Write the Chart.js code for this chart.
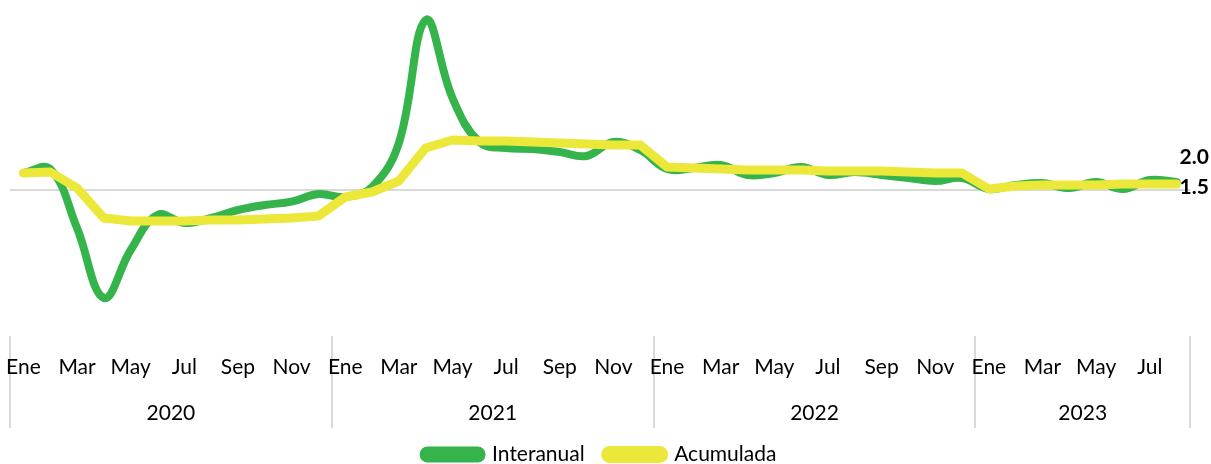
<!DOCTYPE html>
<html>
<head>
<meta charset="utf-8">
<script src="https://cdn.jsdelivr.net/npm/chart.js@4/dist/chart.umd.min.js"></script>
<style>
  html, body { margin: 0; padding: 0; background: #fff; }
  #wrap { width: 1211px; height: 464px; }
</style>
</head>
<body>
<div id="wrap"><canvas id="myGraph"></canvas></div>
<script>
// month names and years on the x axis
var monthNames = ['Ene', 'Feb', 'Mar', 'Abr', 'May', 'Jun', 'Jul', 'Ago', 'Sep', 'Oct', 'Nov', 'Dic'];
var years = ['2020', '2021', '2022', '2023'];
var monthsPerYear = [12, 12, 12, 8];

// variacion interanual (%)
var interanual = [
    4.25, 5.25, -9.5, -27, -15, -6.25, -8.25, -7, -5, -3.75, -2.9, -1,
    -1.75, 0.75, 11.75, 42.5, 23, 12, 10.5, 10.25, 9.5, 8.5, 12, 10,
    5.25, 5.5, 6.25, 3.75, 4.25, 5.75, 3.75, 4.5, 3.75, 3, 2.25, 3,
    0.25, 1.25, 1.75, 0.5, 2.0, 0.25, 2.5, 2.0
];

// variacion acumulada (%)
var acumulada = [
    4.25, 4.5, 0.5, -7, -7.75, -7.75, -7.75, -7.5, -7.5, -7.25, -7, -6.5,
    -1.75, -0.5, 2.25, 10.5, 12.5, 12.25, 12.25, 12, 11.75, 11.5, 11.25, 11.25,
    5.75, 5.5, 5.25, 5, 5, 5, 4.75, 4.75, 4.75, 4.5, 4.25, 4.25,
    0.25, 1, 1.25, 1.25, 1.25, 1.5, 1.5, 1.5
];

var labels = [];
var yearStart = [];
years.forEach(function (y, k) {
    yearStart.push(labels.length);
    for (var m = 0; m < monthsPerYear[k]; m++) labels.push(monthNames[m]);
});

var FONT = 'Lato';
var FSIZE = 21;

// vertical separators between the years (drawn under the labels)
var yearLines = {
    id: 'yearLines',
    beforeDraw: function (chart) {
        var x2 = chart.scales.x2;
        var ctx = chart.ctx;
        var bounds = yearStart.concat([labels.length]);
        ctx.save();
        ctx.strokeStyle = '#d9d9d9';
        ctx.lineWidth = 2;
        bounds.forEach(function (b) {
            var px = Math.round(x2.getPixelForValue(b - 0.5));
            ctx.beginPath();
            ctx.moveTo(px, chart.chartArea.bottom);
            ctx.lineTo(px, chart.chartArea.bottom + 92);
            ctx.stroke();
        });
        ctx.restore();
    }
};

// labels on the last point of each line
var endLabels = {
    id: 'endLabels',
    afterDatasetsDraw: function (chart) {
        var ctx = chart.ctx;
        ctx.save();
        ctx.font = 'bold ' + FSIZE + 'px ' + FONT;
        ctx.fillStyle = '#000';
        ctx.textAlign = 'left';
        ctx.textBaseline = 'middle';
        chart.data.datasets.forEach(function (ds, i) {
            var meta = chart.getDatasetMeta(i);
            var pt = meta.data[meta.data.length - 1];
            var v = ds.data[ds.data.length - 1];
            var dy = i === 0 ? -25 : 3;
            ctx.fillText(v.toFixed(1), pt.x + 3, pt.y + dy);
        });
        ctx.restore();
    }
};

function noSidePadding(scale) {
    scale.paddingLeft = 0;
    scale.paddingRight = 0;
}

var ctx = document.getElementById('myGraph');
var myGraph = new Chart(ctx, {
    type: 'line',
    data: {
        labels: labels,
        datasets: [{
            label: 'Interanual',
            data: interanual,
            borderColor: 'rgb(52, 180, 74)',
            backgroundColor: 'rgb(52, 180, 74)',
            borderWidth: 8,
            tension: 0.4,
            order: 1
        }, {
            label: 'Acumulada',
            data: acumulada,
            borderColor: 'rgb(236, 232, 58)',
            backgroundColor: 'rgb(236, 232, 58)',
            borderWidth: 9,
            tension: 0,
            order: 0
        }]
    },
    plugins: [yearLines, endLabels],
    options: {
        responsive: true,
        maintainAspectRatio: false,
        animation: false,
        layout: { padding: { top: 10, left: 10, right: 21, bottom: -11 } },
        elements: {
            point: { radius: 0 },
            line: { borderCapStyle: 'round', borderJoinStyle: 'round' }
        },
        plugins: {
            tooltip: { enabled: false },
            legend: {
                position: 'bottom',
                labels: {
                    boxWidth: 58,
                    boxHeight: 8,
                    useBorderRadius: true,
                    borderRadius: 4,
                    padding: 21,
                    color: '#000',
                    font: { family: FONT, size: FSIZE },
                    sort: function (a, b) { return a.datasetIndex - b.datasetIndex; }
                }
            }
        },
        scales: {
            x: {
                offset: true,
                grid: { display: false, drawTicks: false },
                border: { display: false },
                afterFit: function (scale) { scale.height = 42; noSidePadding(scale); },
                ticks: {
                    autoSkip: false,
                    maxRotation: 0,
                    padding: 19,
                    color: '#000',
                    font: { family: FONT, size: FSIZE },
                    callback: function (val, i) { return i % 2 === 0 ? labels[i] : ''; }
                }
            },
            x2: {
                type: 'linear',
                position: 'bottom',
                min: -0.5,
                max: labels.length - 0.5,
                grid: { display: false, drawTicks: false },
                border: { display: false },
                afterBuildTicks: function (scale) {
                    scale.ticks = years.map(function (y, k) {
                        return { value: yearStart[k] + (monthsPerYear[k] - 1) / 2 };
                    });
                },
                afterFit: function (scale) { scale.height = 45; noSidePadding(scale); },
                ticks: {
                    autoSkip: false,
                    maxRotation: 0,
                    padding: 23,
                    color: '#000',
                    font: { family: FONT, size: FSIZE },
                    callback: function (val, i) { return years[i]; }
                }
            },
            y: {
                min: -36.5,
                max: 45,
                afterBuildTicks: function (scale) { scale.ticks = [{ value: 0 }]; },
                grid: { color: '#d9d9d9', lineWidth: 2, drawTicks: false },
                border: { display: false },
                ticks: { display: false }
            }
        }
    }
});
</script>
</body>
</html>
